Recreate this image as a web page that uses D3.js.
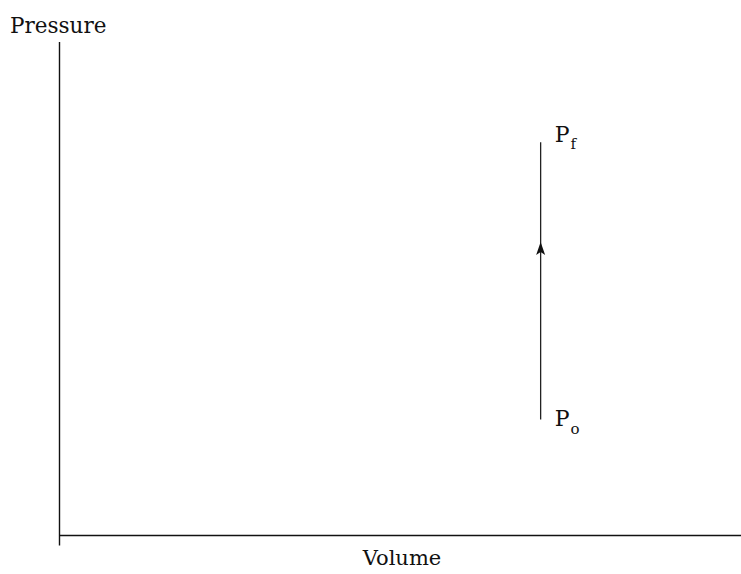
<!DOCTYPE html>
<html><head><meta charset="utf-8">
<script src="https://cdn.jsdelivr.net/npm/d3@7"></script>
<style>body{margin:0;background:#fff}svg{display:block}</style>
</head><body>
<script>
// Data (arbitrary units)
const volumeDomain = [0, 100];
const pressureDomain = [0, 100];
const processVolume = [70.6, 70.6];
const processPressure = [23.5, 79.7];
const pointLabels = ["P", "P"];
const pointSubs = ["o", "f"];
const arrowFraction = 0.64;

const W = 741, H = 574;
const svg = d3.select("body").append("svg").attr("width", W).attr("height", H);
const x = d3.scaleLinear().domain(volumeDomain).range([59.5, 741]);
const y = d3.scaleLinear().domain(pressureDomain).range([535.5, 42]);
const font = "DejaVu Serif";

// axes
svg.append("line").attr("x1", x(0)).attr("x2", x(0)).attr("y1", y(100)).attr("y2", y(0) + 10)
  .attr("stroke", "#111").attr("stroke-width", 1.4);
svg.append("line").attr("x1", x(0)).attr("x2", x(100)).attr("y1", y(0)).attr("y2", y(0))
  .attr("stroke", "#111").attr("stroke-width", 1.4);

svg.append("text").attr("x", 10).attr("y", 32.5).attr("font-family", font).attr("font-size", 21.5)
  .attr("fill", "#111").text("Pressure");
svg.append("text").attr("x", 402).attr("y", 565).attr("text-anchor", "middle").attr("font-family", font)
  .attr("font-size", 21).attr("fill", "#111").text("Volume");

// process line
const pts = processVolume.map((v, i) => [x(v), y(processPressure[i])]);
svg.append("path").attr("d", d3.line()(pts)).attr("stroke", "#222").attr("stroke-width", 1.3).attr("fill", "none");

// arrowhead
const ax = pts[0][0] + (pts[1][0] - pts[0][0]) * arrowFraction;
const ay = pts[0][1] + (pts[1][1] - pts[0][1]) * arrowFraction;
svg.append("path")
  .attr("d", `M${ax},${ay} L${ax + 4.5},${ay + 13} L${ax},${ay + 10} L${ax - 4.5},${ay + 13} Z`)
  .attr("fill", "#111");

// labels
pts.forEach((p, i) => {
  const t = svg.append("text").attr("x", p[0] + 14).attr("y", p[1] + (i === 0 ? 6 : 0))
    .attr("font-family", font).attr("font-size", 22).attr("fill", "#111");
  t.append("tspan").text(pointLabels[i]);
  t.append("tspan").attr("dx", 1).attr("dy", i === 0 ? 8.5 : 7).attr("font-size", 15).text(pointSubs[i]);
});
</script>
</body></html>
